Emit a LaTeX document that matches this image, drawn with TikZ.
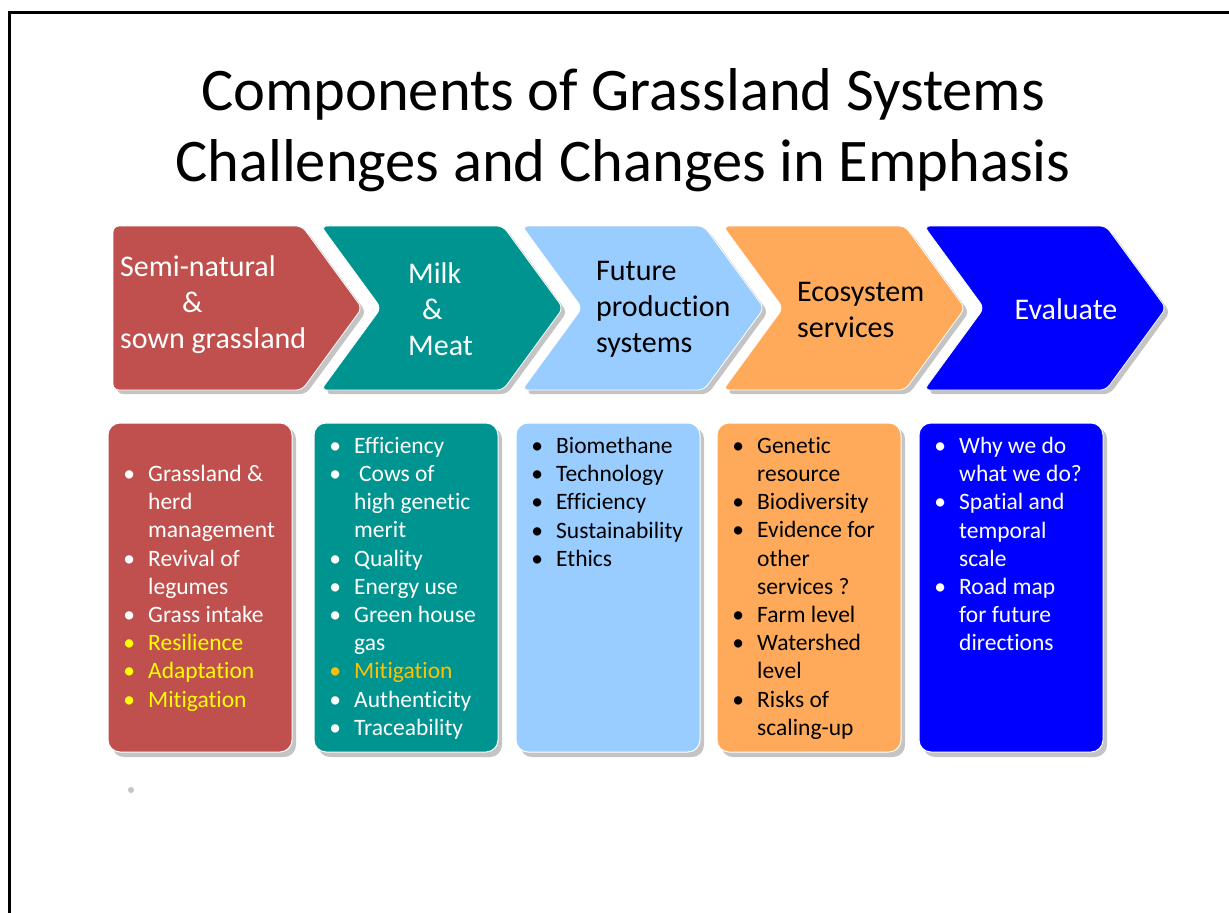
\documentclass[tikz,border=0pt]{standalone}
\usepackage{fontspec}
\setmainfont{Carlito}[Ligatures=NoCommon]

\definecolor{chevred}{HTML}{C0504D}
\definecolor{chevteal}{HTML}{009490}
\definecolor{chevsky}{HTML}{99CCFF}
\definecolor{chevorange}{HTML}{FFAA5A}
\definecolor{chevblue}{HTML}{0000FF}
\definecolor{shadowc}{HTML}{C4C4C4}
\definecolor{yel}{HTML}{FFFF00}
\definecolor{gold}{HTML}{FFC000}

\newcommand{\bl}{\makebox[0pt]{\textbullet}\hspace*{19pt}}
\newcommand{\ind}{\hspace*{19pt}}

\tikzset{
  titletext/.style={font=\fontsize{60.5}{71}\selectfont, inner sep=0pt, anchor=base},
  chevtext/.style={font=\fontsize{30}{36}\selectfont, align=left, inner sep=0pt, anchor=west},
  listtext/.style={font=\fontsize{23.5}{28.2}\selectfont, align=left, inner sep=0pt, anchor=north west},
}

\begin{document}
\begin{tikzpicture}[x=1pt, y=-1pt]
  \useasboundingbox (0,0) rectangle (1229,913);
  \fill[white] (0,0) rectangle (1229,913);
  \draw[line width=3pt] (9.5,913) -- (9.5,12) -- (1229,12);

  \node[titletext] (title-top) at (623,110) {Components of Grassland Systems};
  \node[titletext] (title-bot) at (623,181) {Challenges and Changes in Emphasis};

  % chevrons
  \foreach \lft/\tip/\notch/\col in {113/362/0/chevred, 321/563/60/chevteal,
      522/764/60/chevsky, 723/965/60/chevorange, 924/1166/60/chevblue} {
    \fill[shadowc, rounded corners=6pt, shift={(4,4)}]
      (\lft,226) -- ({\tip-60},226) -- (\tip,308) -- ({\tip-60},390)
      -- (\lft,390) -- ({\lft+\notch},308) -- cycle;
    \filldraw[fill=\col, draw=white, line width=0.8pt, rounded corners=6pt]
      (\lft,226) -- ({\tip-60},226) -- (\tip,308) -- ({\tip-60},390)
      -- (\lft,390) -- ({\lft+\notch},308) -- cycle;
  }

  \node[chevtext, text=white] (chev-grass) at (120,305)
    {Semi-natural\\\hspace*{62pt}\&\\sown grassland};
  \node[chevtext, text=white] (chev-meat) at (408,309)
    {Milk\\\hspace*{14pt}\&\\Meat};
  \node[chevtext] (chev-future) at (596,309) {Future\\production\\systems};
  \node[chevtext] (chev-eco) at (797,310) {Ecosystem\\services};
  \node[chevtext, anchor=center, text=white] (chev-eval) at (1066,309) {Evaluate};

  % boxes
  \foreach \lft/\col in {108/chevred, 314/chevteal, 516/chevsky, 717/chevorange, 919/chevblue} {
    \fill[shadowc, rounded corners=12pt] ({\lft+4},427) rectangle ({\lft+188},757);
    \filldraw[fill=\col, draw=white, line width=1pt, rounded corners=12pt]
      (\lft,423) rectangle ({\lft+184},752);
  }

  \node[listtext, text=white] (list-grass) at (129,465)
    {\bl Grassland \&\\\ind herd\\\ind management\\\bl Revival of\\\ind legumes\\
     \bl Grass intake\\\textcolor{yel}{\bl Resilience}\\\textcolor{yel}{\bl Adaptation}\\
     \textcolor{yel}{\bl Mitigation}};
  \node[listtext, text=white] (list-meat) at (335,437)
    {\bl Efficiency\\\bl\hspace*{5pt}Cows of\\\ind high genetic\\\ind merit\\\bl Quality\\
     \bl Energy use\\\bl Green house\\\ind gas\\\textcolor{gold}{\bl Mitigation}\\
     \bl Authenticity\\\bl Traceability};
  \node[listtext] (list-future) at (537,437)
    {\bl Biomethane\\\bl Technology\\\bl Efficiency\\\bl Sustainability\\\bl Ethics};
  \node[listtext] (list-eco) at (738,437)
    {\bl Genetic\\\ind resource\\\bl Biodiversity\\\bl Evidence for\\\ind other\\
     \ind services ?\\\bl Farm level\\\bl Watershed\\\ind level\\\bl Risks of\\\ind scaling-up};
  \node[listtext, text=white] (list-eval) at (940,437)
    {\bl Why we do\\\ind what we do?\\\bl Spatial and\\\ind temporal\\\ind scale\\
     \bl Road map\\\ind for future\\\ind directions};

  \fill[shadowc] (131,790) circle (3pt);
\end{tikzpicture}
\end{document}
